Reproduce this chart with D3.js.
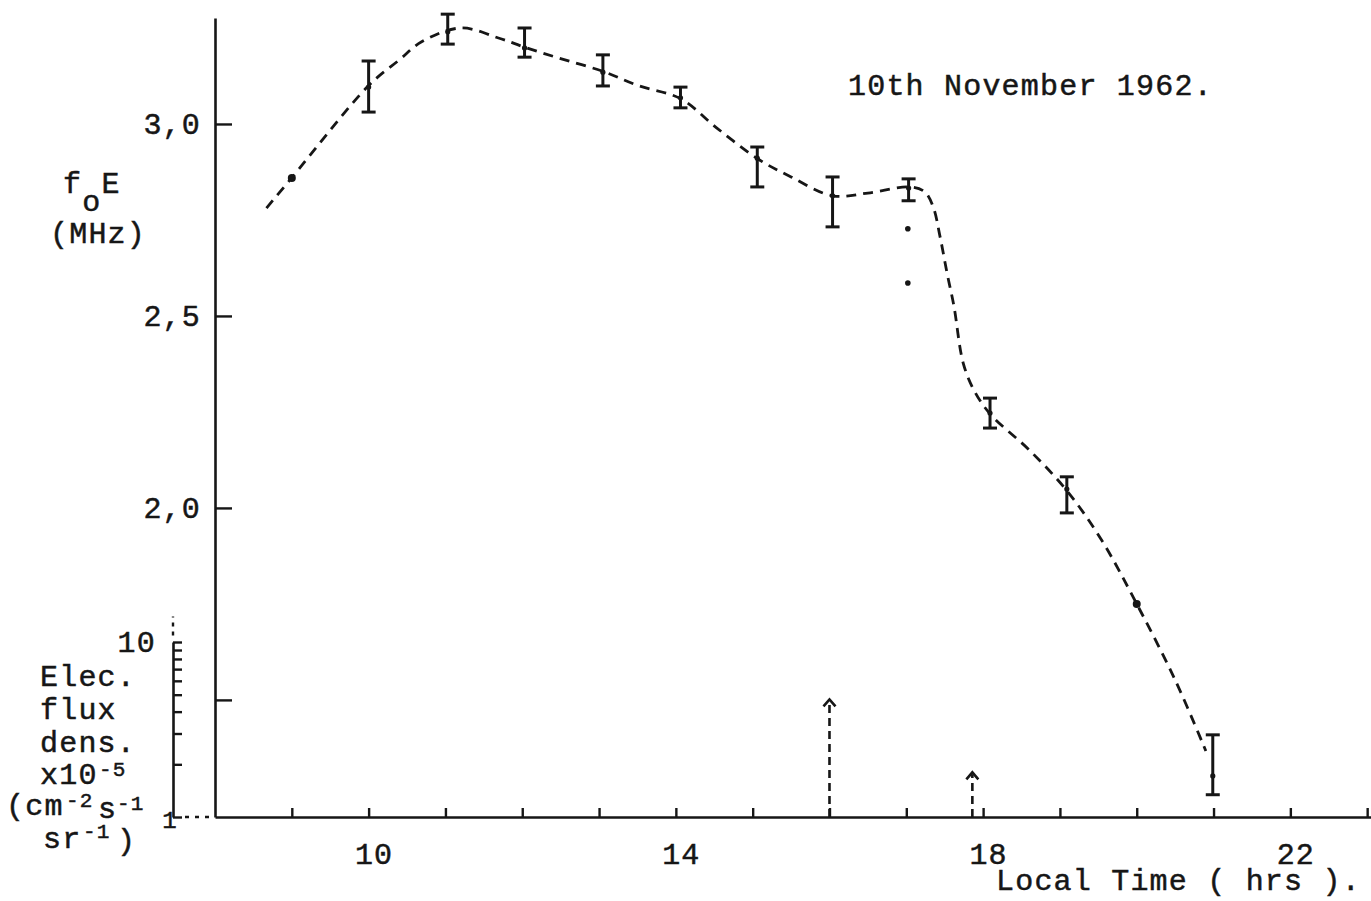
<!DOCTYPE html>
<html>
<head>
<meta charset="utf-8">
<script src="https://cdn.jsdelivr.net/npm/d3@7"></script>
<style>
  body { margin: 0; background: #ffffff; }
  svg text { font-family: "Liberation Mono", "Courier New", monospace; fill: #161616; stroke: #161616; stroke-width: 0.5px; letter-spacing: 1.2px; }
</style>
</head>
<body>
<svg id="chart" width="1371" height="901"></svg>
<script>
// foE readings on 10 November 1962 (local time in hours, MHz)
const hours   = [9.0, 10.0, 11.03, 12.03, 13.05, 14.06, 15.06, 16.04, 17.03, 18.09, 19.09, 20.0, 20.99];
const foE     = [2.859, 3.096, 3.240, 3.198, 3.135, 3.068, 2.911, 2.813, 2.833, 2.247, 2.049, 1.750, 1.302];
const foELow  = [null, 3.031, 3.208, 3.174, 3.099, 3.042, 2.836, 2.732, 2.800, 2.208, 1.987, null, 1.253];
const foEHigh = [null, 3.164, 3.286, 3.250, 3.180, 3.096, 2.940, 2.862, 2.857, 2.286, 2.081, null, 1.409];

// two further single readings taken at 17 h
const extraHours = [17.02, 17.02];
const extraFoE   = [2.727, 2.586];

// smoothed trend drawn through the readings
const trendHours = [8.67, 9.0, 10.0, 10.4, 10.69, 11.2, 11.69, 12.03, 12.47, 13.05, 13.51, 14.06, 14.53, 15.06, 15.5, 16.04, 16.5, 17.05, 17.24, 17.35, 17.44, 17.53, 17.62, 17.74, 17.88, 18.09, 18.6, 19.09, 19.54, 20.0, 20.5, 20.9];
const trendFoE   = [2.781, 2.86, 3.10, 3.167, 3.214, 3.25, 3.224, 3.20, 3.172, 3.137, 3.10, 3.066, 2.99, 2.91, 2.862, 2.813, 2.82, 2.836, 2.823, 2.784, 2.706, 2.612, 2.526, 2.378, 2.307, 2.245, 2.151, 2.045, 1.917, 1.75, 1.552, 1.367];

// electron flux density lower limits (x10^-5 cm^-2 s^-1 sr^-1)
const fluxHours  = [16.0, 17.86];
const fluxValues = [4.7, 1.8];

// axis ticks
const xTicks      = [9, 10, 11, 12, 13, 14, 15, 16, 17, 18, 19, 20, 21, 22, 23];
const xLabels     = [10, 14, 18, 22];
const yTicks      = [1.5, 2.0, 2.5, 3.0];
const yLabels     = [2.0, 2.5, 3.0];
const fluxTicks   = [1, 2, 3, 4, 5, 6, 7, 8, 9, 10];
const fluxAxisTop = 14;

const INK = "#161616";
const FONT = 30;
const svg = d3.select("#chart");

const x = d3.scaleLinear().domain([8, 23.05]).range([215, 1371]);
const y = d3.scaleLinear().domain([1.195, 3.276]).range([817, 18]);
const flux = d3.scaleLog().domain([1, 10]).range([817, 642]);
const fluxX = 173;

function styleAxis(g) {
  g.attr("font-family", null).attr("font-size", null);
  g.selectAll(".domain").attr("stroke", INK).attr("stroke-width", 2.6);
  g.selectAll(".tick line").attr("stroke", INK).attr("stroke-width", 2.4);
  g.selectAll(".tick text").attr("fill", INK).style("font-size", FONT + "px");
}

// time axis
const gx = svg.append("g").attr("transform", "translate(0,817)")
  .call(d3.axisBottom(x).tickValues(xTicks).tickSize(-9).tickSizeOuter(0).tickPadding(26)
    .tickFormat(d => xLabels.includes(d) ? String(d) : ""));
styleAxis(gx);
gx.selectAll(".tick text").attr("dx", 5);

// foE axis
const gy = svg.append("g").attr("transform", "translate(215,0)")
  .call(d3.axisLeft(y).tickValues(yTicks).tickSize(-17).tickSizeOuter(0).tickPadding(14)
    .tickFormat(d => yLabels.includes(d) ? d.toFixed(1).replace(".", ",") : ""));
styleAxis(gy);

// flux axis (logarithmic)
const gf = svg.append("g").attr("transform", `translate(${fluxX},0)`)
  .call(d3.axisLeft(flux).tickValues(fluxTicks).tickSize(-9).tickSizeOuter(0).tickFormat(""));
styleAxis(gf);

svg.append("line")
  .attr("x1", fluxX).attr("x2", fluxX)
  .attr("y1", flux(10.9)).attr("y2", flux(fluxAxisTop))
  .attr("stroke", INK).attr("stroke-width", 2.4).attr("stroke-dasharray", "4 5");
svg.append("line")
  .attr("x1", fluxX + 12).attr("x2", x(8) - 2)
  .attr("y1", flux(1)).attr("y2", flux(1))
  .attr("stroke", INK).attr("stroke-width", 2.4).attr("stroke-dasharray", "4 6");

svg.append("text").attr("x", fluxX - 17).attr("y", flux(10) + 10)
  .attr("text-anchor", "end").style("font-size", FONT + "px").text("10");
svg.append("text").attr("x", fluxX - 3).attr("y", flux(1) + 11)
  .attr("text-anchor", "middle").style("font-size", "24px").text("1");

// trend line
const line = d3.line().x(d => x(d[0])).y(d => y(d[1])).curve(d3.curveCatmullRom.alpha(0.5));
svg.append("path")
  .datum(trendHours.map((h, i) => [h, trendFoE[i]]))
  .attr("d", line)
  .attr("fill", "none").attr("stroke", INK).attr("stroke-width", 2.8)
  .attr("stroke-dasharray", "10 7");

// error bars
const readings = hours.map((h, i) => ({ h, v: foE[i], lo: foELow[i], hi: foEHigh[i] }));
const bars = svg.append("g").attr("stroke", INK).attr("stroke-width", 3);
readings.filter(d => d.lo !== null).forEach(d => {
  const cx = x(d.h);
  bars.append("line").attr("x1", cx).attr("x2", cx).attr("y1", y(d.hi)).attr("y2", y(d.lo));
  bars.append("line").attr("x1", cx - 7).attr("x2", cx + 7).attr("y1", y(d.hi)).attr("y2", y(d.hi));
  bars.append("line").attr("x1", cx - 7).attr("x2", cx + 7).attr("y1", y(d.lo)).attr("y2", y(d.lo));
});
svg.append("g").selectAll("circle").data(readings).join("circle")
  .attr("cx", d => x(d.h)).attr("cy", d => y(d.v))
  .attr("r", d => d.lo === null ? 4 : 2.6)
  .attr("fill", INK);

svg.append("g").selectAll("circle").data(extraHours.map((h, i) => [h, extraFoE[i]])).join("circle")
  .attr("cx", d => x(d[0])).attr("cy", d => y(d[1])).attr("r", 2.8).attr("fill", INK);

// flux lower-limit arrows
const arrows = svg.append("g").attr("stroke", INK).attr("stroke-width", 2.6).attr("fill", "none");
fluxHours.forEach((h, i) => {
  const ax = x(h), top = flux(fluxValues[i]);
  arrows.append("line").attr("x1", ax).attr("x2", ax).attr("y1", flux(1)).attr("y2", top + 2)
    .attr("stroke-dasharray", "8 5");
  arrows.append("path").attr("d", `M${ax - 6},${top + 7}L${ax},${top}L${ax + 6},${top + 7}`);
});

// titles and axis captions
svg.append("text").attr("x", 848).attr("y", 95).style("font-size", FONT + "px").text("10th November 1962.");
svg.append("text").attr("x", 996).attr("y", 890).style("font-size", FONT + "px").text("Local Time ( hrs ).");

const foeLabel = svg.append("text").attr("x", 63).attr("y", 193).style("font-size", FONT + "px");
foeLabel.append("tspan").text("f");
foeLabel.append("tspan").attr("dy", 18).text("o");
foeLabel.append("tspan").attr("dy", -18).text("E");
svg.append("text").attr("x", 50).attr("y", 243).style("font-size", FONT + "px").text("(MHz)");

// flux caption, line by line
const cap = [
  { x: 40, y: 686, t: "Elec." },
  { x: 40, y: 719, t: "flux" },
  { x: 40, y: 752, t: "dens." },
  { x: 40, y: 784, t: "x10" },
  { x: 6,  y: 815, t: "(cm" },
  { x: 98, y: 818, t: "s" },
  { x: 43, y: 848, t: "sr" },
  { x: 117, y: 850, t: ")" }
];
svg.append("g").selectAll("text").data(cap).join("text")
  .attr("x", d => d.x).attr("y", d => d.y).style("font-size", FONT + "px").text(d => d.t);
const sup = [
  { x: 99, y: 776, t: "-5" },
  { x: 66, y: 807, t: "-2" },
  { x: 117, y: 810, t: "-1" },
  { x: 83, y: 838, t: "-1" }
];
svg.append("g").selectAll("text").data(sup).join("text")
  .attr("x", d => d.x).attr("y", d => d.y).style("font-size", "21px").text(d => d.t);
</script>
</body>
</html>
